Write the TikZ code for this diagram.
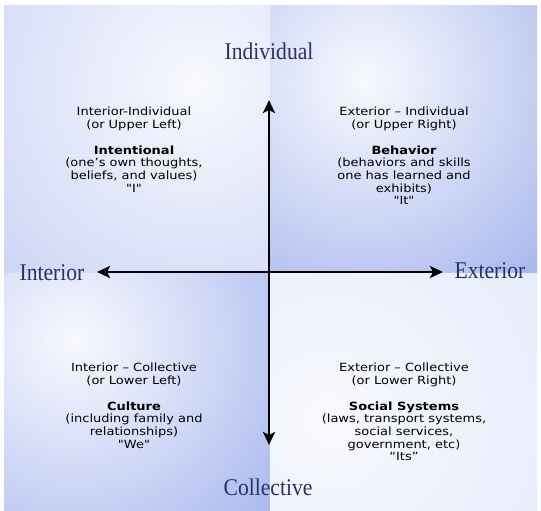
\documentclass[tikz,border=0pt]{standalone}
\usepackage{fontspec}
\setmainfont{DejaVu Sans}
\newfontfamily\bodyfont[Ligatures=TeXOff, FakeStretch=1.15]{DejaVu Sans}
\newfontfamily\headfont[FakeStretch=0.9]{Liberation Serif}
\usetikzlibrary{arrows.meta}

\definecolor{headblue}{RGB}{38,50,104}
\definecolor{glowwhite}{RGB}{248,249,254}
\definecolor{ulblue}{RGB}{180,194,240}
\definecolor{urblue}{RGB}{136,158,230}
\definecolor{llblue}{RGB}{140,161,232}
\definecolor{lrblue}{RGB}{216,223,248}

\tikzset{
  axis/.style={line width=2.6pt,
    {Stealth[length=13pt,width=12pt,inset=3pt]}-{Stealth[length=13pt,width=12pt,inset=3pt]}},
  heading/.style={font=\headfont\fontsize{24}{24}\selectfont, text=headblue, inner sep=0pt},
  quadtext/.style={font=\bodyfont\fontsize{11.3}{12.7}\selectfont, align=center, inner sep=0pt}
}

\begin{document}
\begin{tikzpicture}[x=1pt,y=-1pt]
\useasboundingbox (0,0) rectangle (541,511);
\fill[white] (0,0) rectangle (541,511);

% quadrant backgrounds
\begin{scope}
\clip (4,6) rectangle (270,273);
\fill[ulblue] (4,6) rectangle (270,273);
\shade[inner color=glowwhite, outer color=ulblue] (195,85) circle (420pt);
\end{scope}
\begin{scope}
\clip (270,6) rectangle (537,273);
\fill[urblue] (270,6) rectangle (537,273);
\shade[inner color=glowwhite, outer color=urblue] (365,80) circle (360pt);
\end{scope}
\begin{scope}
\clip (4,273) rectangle (270,511);
\fill[llblue] (4,273) rectangle (270,511);
\shade[inner color=glowwhite, outer color=llblue] (75,340) circle (360pt);
\end{scope}
\begin{scope}
\clip (270,273) rectangle (537,511);
\fill[lrblue] (270,273) rectangle (537,511);
\shade[inner color=glowwhite, outer color=lrblue] (330,420) circle (480pt);
\end{scope}

% axes
\coordinate (top) at (269,100);
\coordinate (bottom) at (269,445);
\coordinate (left) at (97,272);
\coordinate (right) at (443,272);
\draw[axis] (bottom) -- (top);
\draw[axis] (left) -- (right);

% headings
\node[heading] (indiv) at (269,51) {Individual};
\node[heading] (coll) at (268,487) {Collective};
\node[heading] (inter) at (52,273) {Interior};
\node[heading] (exter) at (490,271) {Exterior};

% quadrant texts
\node[quadtext, anchor=north] (ul) at (134,107) {Interior-Individual\\(or Upper Left)\\[13pt]
  \textbf{Intentional}\\(one’s own thoughts,\\beliefs, and values)\\"I"};
\node[quadtext, anchor=north] (ur) at (404,107) {Exterior – Individual\\(or Upper Right)\\[13pt]
  \textbf{Behavior}\\(behaviors and skills\\one has learned and\\exhibits)\\"It"};
\node[quadtext, anchor=north] (ll) at (134,363) {Interior – Collective\\(or Lower Left)\\[13pt]
  \textbf{Culture}\\(including family and\\relationships)\\"We"};
\node[quadtext, anchor=north] (lr) at (404,363) {Exterior – Collective\\(or Lower Right)\\[13pt]
  \textbf{Social Systems}\\(laws, transport systems,\\social services,\\government, etc)\\“Its”};
\end{tikzpicture}
\end{document}
